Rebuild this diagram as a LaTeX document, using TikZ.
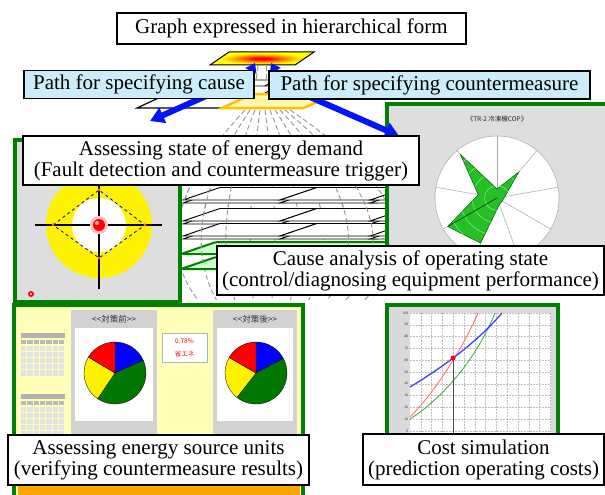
\documentclass[tikz,border=0pt]{standalone}
\usepackage{fontspec}
\setmainfont{Liberation Serif}
\newfontfamily\jpfont{Noto Sans CJK JP}
\usetikzlibrary{arrows.meta}
\definecolor{pgreen}{RGB}{0,128,0}
\definecolor{lblue}{RGB}{204,236,252}
\definecolor{arblue}{RGB}{0,20,255}
\definecolor{panelgray}{RGB}{222,222,222}
\definecolor{paleyellow}{RGB}{255,255,185}
\definecolor{goldline}{RGB}{255,192,0}
\definecolor{plateyellow}{RGB}{255,248,170}
\definecolor{lgreen}{RGB}{204,255,204}
\definecolor{radargreen}{RGB}{40,190,40}
\definecolor{piegreen}{RGB}{0,120,0}
\definecolor{pieblue}{RGB}{0,0,255}
\definecolor{orangestrip}{RGB}{255,165,0}
\definecolor{fangray}{RGB}{150,150,150}
\pgfdeclareradialshading{plateshade}{\pgfpoint{0bp}{0bp}}{color(0bp)=(red); color(4bp)=(red); color(11bp)=(orange); color(20bp)=(yellow); color(100bp)=(yellow)}
\begin{document}
\begin{tikzpicture}[x=1pt,y=-1pt,
  lbl/.style={draw=black,line width=1.6pt,fill=white,inner sep=0pt,align=center,font=\fontsize{21}{21}\selectfont},
  bluelbl/.style={lbl,fill=lblue},
  panel/.style={draw=pgreen,line width=3.5pt},
  bigarrow/.style={draw=arblue,line width=6pt,-{Triangle[length=14pt,width=16pt]}},
  smallarrow/.style={draw=arblue,line width=4.5pt,-{Triangle[length=9pt,width=12pt]}},
  fan/.style={draw=fangray,line width=0.9pt,dash pattern=on 5pt off 3pt},
  slab/.style={draw=black,line width=0.9pt,fill=white},
  gslab/.style={draw=pgreen,line width=2pt,fill=lgreen,rounded corners=2pt},
  jp/.style={font=\jpfont\fontsize{#1}{#1}\selectfont},
  grid/.style={draw=gray!50,dash pattern=on 1.5pt off 1.5pt,line width=0.4pt}
]
\useasboundingbox (0,0) rectangle (605,495);
\fill[white] (0,0) rectangle (605,495);

% ---- dashed fan of lines (behind the layers)
\foreach \i in {0,...,9}{
  \pgfmathsetmacro\sx{245+5*\i}
  \pgfmathsetmacro\a{-94+26.9*\i}
  \draw[fan] (\sx,110) .. controls (\sx+0.6*\a,170) and (\sx+\a,240) .. (\sx+0.5*\a,300);
}
\draw[fan] (258,66) -- (254,96);
\draw[fan] (266,66) -- (266,96);
\draw[fan] (274,66) -- (280,96);

% ---- stacked layers between the upper panels
\foreach \b in {200,221,236}{
  \foreach \xo in {183,280,370}{
    \filldraw[slab] (\xo,\b+3) -- ++(97,0) -- ++(37,-12.5) -- ++(-97,0) -- cycle;
    \filldraw[slab] (\xo,\b) -- ++(97,0) -- ++(37,-12.5) -- ++(-97,0) -- cycle;
  }
}
\filldraw[gslab] (181,254) -- (420,254) -- (455,242) -- (216,242) -- cycle;
\filldraw[gslab] (181,269) -- (420,269) -- (455,257) -- (216,257) -- cycle;

% ---- outer dashed lines seen in front of the layers
\begin{scope}
  \clip (176,180) rectangle (236,262) (336,180) rectangle (396,262);
  \foreach \i in {0,1,2,7,8,9}{
    \pgfmathsetmacro\sx{245+5*\i}
    \pgfmathsetmacro\a{-94+26.9*\i}
    \draw[fan] (\sx,110) .. controls (\sx+0.6*\a,170) and (\sx+\a,240) .. (\sx+0.5*\a,300);
  }
\end{scope}

% ---- upper plates
\filldraw[slab] (150,92) -- (255,92) -- (275,80) -- (170,80) -- cycle;
\filldraw[slab] (150,97) -- (258,97) -- (278,86) -- (170,86) -- cycle;
\filldraw[slab,line width=1.2pt] (137,108) -- (232,108) -- (262,94) -- (167,94) -- cycle;
\filldraw[fill=plateyellow,draw=goldline,line width=2.5pt] (222,108) -- (304,108) -- (334,94) -- (252,94) -- cycle;
\shade[shading=plateshade] (210,65) -- (295,65) -- (314,52) -- (229,52) -- cycle;
\draw[line width=1pt] (210,65) -- (295,65) -- (314,52) -- (229,52) -- cycle;

% ---- left panel: state of energy demand
\fill[panelgray] (15,140) rectangle (180,302);
\begin{scope}
  \clip (17,142) rectangle (178,300);
  \fill[yellow] (99,225) circle[radius=53];
  \fill[white] (99,225) circle[radius=27];
  \draw[line width=1.2pt] (35,225) -- (162,225);
  \draw[line width=1.2pt] (99,170) -- (99,289);
  \draw[blue!80!black,dashed,line width=0.8pt] (53,225) -- (99,190) -- (145,225) -- (99,258) -- cycle;
  \foreach \p in {(53,225),(99,190),(145,225),(99,258)} \fill[orange!80!red] \p circle[radius=1.6];
  \fill[red!25] (99,225) circle[radius=9];
  \fill[red] (99,225) circle[radius=6];
  \fill[red!35] (97,223) circle[radius=2];
  \fill[red] (31,294) circle[radius=3];
  \fill[white] (31,294) circle[radius=1.2];
\end{scope}
\draw[panel] (15,140) rectangle (180,302);

% ---- right panel: radar chart
\fill[panelgray] (387,104) rectangle (607,262);
\node[jp=6.5,text=gray!30!black,inner sep=0pt] (radtitle) at (497,119) {《TR-2 冷凍機COP》};
\begin{scope}[shift={(497,198)},y=1pt]
  \fill[white] (0,0) circle[radius=62];
  \draw[gray!60,line width=0.6pt] (0,0) circle[radius=62];
  \foreach \t in {90,50,10,-30,-70,-110,-150,170,130} \draw[gray!70,line width=0.5pt] (0,0) -- (\t:62);
  \filldraw[fill=radargreen,draw=green!35!black,line width=0.5pt] (90:9) -- (50:34) -- (10:8) -- (-30:6) -- (-70:7) -- (-110:48) -- (-150:57) -- (170:19) -- (130:57) -- cycle;
  \begin{scope}
    \clip (90:9) -- (50:34) -- (10:8) -- (-30:6) -- (-70:7) -- (-110:48) -- (-150:57) -- (170:19) -- (130:57) -- cycle;
    \foreach \r in {12.4,24.8,37.2,49.6} \draw[green!55!white,line width=0.5pt] (0,0) circle[radius=\r];
    \draw[green!25!black,line width=0.6pt] (0,0) -- (-150:62);
  \end{scope}
\end{scope}
\draw[panel] (387,104) rectangle (607,262);

% ---- bottom-left panel: energy source units
\fill[paleyellow] (14,305) rectangle (303,500);
\foreach \yo in {333,394}{
  \fill[gray!60] (21,\yo) rectangle (65,\yo+5);
  \foreach \c in {0,...,6} \fill[gray!55] (21+\c*6.3,\yo+6.5) rectangle ++(5.4,4.5);
  \foreach \r in {0,...,4}{
    \foreach \c in {0,...,6} \fill[gray!22] (21+\c*6.3,\yo+12.5+\r*6.2) rectangle ++(5.4,5.3);
  }
}
\fill[gray!35] (71,310) rectangle (157,436);
\node[jp=8.5,text=gray!40!black,inner sep=0pt] (befh) at (114,319) {<<対策前>>};
\fill[white] (75,328) rectangle (153,421);
\begin{scope}[shift={(115,373)},y=1pt]
  \filldraw[fill=pieblue,draw=black,line width=0.3pt] (0,0) -- (24:31) arc[start angle=24,end angle=90,radius=31] -- cycle;
  \filldraw[fill=piegreen,draw=black,line width=0.3pt] (0,0) -- (-124:31) arc[start angle=-124,end angle=24,radius=31] -- cycle;
  \filldraw[fill=yellow,draw=black,line width=0.3pt] (0,0) -- (149:31) arc[start angle=149,end angle=236,radius=31] -- cycle;
  \filldraw[fill=red,draw=black,line width=0.3pt] (0,0) -- (90:31) arc[start angle=90,end angle=149,radius=31] -- cycle;
\end{scope}
\fill[gray!35] (213,310) rectangle (297,436);
\node[jp=8.5,text=gray!40!black,inner sep=0pt] (afth) at (255,319) {<<対策後>>};
\fill[white] (217,328) rectangle (293,421);
\begin{scope}[shift={(256,373)},y=1pt]
  \filldraw[fill=pieblue,draw=black,line width=0.3pt] (0,0) -- (28:31) arc[start angle=28,end angle=90,radius=31] -- cycle;
  \filldraw[fill=piegreen,draw=black,line width=0.3pt] (0,0) -- (-128:31) arc[start angle=-128,end angle=28,radius=31] -- cycle;
  \filldraw[fill=yellow,draw=black,line width=0.3pt] (0,0) -- (150:31) arc[start angle=150,end angle=232,radius=31] -- cycle;
  \filldraw[fill=red,draw=black,line width=0.3pt] (0,0) -- (90:31) arc[start angle=90,end angle=150,radius=31] -- cycle;
\end{scope}
\node[draw=gray!60,fill=white,line width=0.6pt,minimum width=45pt,minimum height=29pt,inner sep=0pt,align=center,text=red,font=\jpfont\fontsize{6.5}{13}\selectfont] (ratio) at (184.5,347.5) {0.78\%\\省エネ};
\fill[orangestrip] (18,484) rectangle (300,500);
\draw[orange!60!black,line width=0.5pt] (18,484) -- (300,484);
\draw[panel] (14,305) rectangle (303,505);

% ---- bottom-right panel: cost simulation
\fill[gray!30] (387,305) rectangle (558,445);
\fill[white] (410,313) rectangle (551,445);
\foreach \i in {1,...,13} \draw[grid] (410+\i*10.8,313) -- (410+\i*10.8,445);
\foreach \v in {0,10,...,100} \draw[grid] (410,431-\v*1.18) -- (551,431-\v*1.18);
\foreach \v in {0,10,...,100} \node[font=\fontsize{3.5}{4}\selectfont\sffamily,anchor=east,inner sep=0.5pt,text=gray!40!black] (tick\v) at (409,431-\v*1.18) {\v};
\draw[red!55,line width=0.9pt] (410,417) .. controls (435,392) and (463,348) .. (478,313);
\draw[green!55!black!70,line width=0.9pt] (410,419) .. controls (440,400) and (475,362) .. (495,313);
\draw[blue!75,line width=1.3pt] (410,387) .. controls (435,372) and (475,345) .. (502,313);
\draw[gray!60!black,line width=0.5pt] (453,358) -- (453,445);
\fill[red] (453,358) circle[radius=2.5];
\draw[panel] (387,305) rectangle (558,445);

% ---- blue path arrows
\coordinate (ulT) at (240,92); \coordinate (ulH) at (255,63);
\coordinate (urT) at (287,92); \coordinate (urH) at (271,63);
\coordinate (dlT) at (215,92); \coordinate (dlH) at (150,121);
\coordinate (drT) at (310,97); \coordinate (drH) at (399,136);
\draw[smallarrow] (ulT) -- (ulH);
\draw[smallarrow] (urT) -- (urH);
\draw[bigarrow] (dlT) -- (dlH);
\draw[bigarrow] (drT) -- (drH);

% ---- labels
\node[lbl,minimum width=349pt,minimum height=31pt] (title) at (291.5,28.5) {Graph expressed in hierarchical form};
\node[bluelbl,minimum width=230pt,minimum height=28pt] (cause) at (139,84.5) {Path for specifying cause};
\node[bluelbl,minimum width=321pt,minimum height=28pt] (counter) at (429.5,85) {Path for specifying countermeasure};
\node[lbl,minimum width=396pt,minimum height=49pt] (demand) at (221,160.5) {Assessing state of energy demand\\(Fault detection and countermeasure trigger)};
\node[lbl,minimum width=387pt,minimum height=49pt] (analysis) at (410.5,270.5) {Cause analysis of operating state\\(control/diagnosing equipment performance)};
\node[lbl,minimum width=301pt,minimum height=50pt] (units) at (158.5,460) {Assessing energy source units\\(verifying countermeasure results)};
\node[lbl,minimum width=241pt,minimum height=51pt] (cost) at (483.5,459.5) {Cost simulation\\(prediction operating costs)};
\end{tikzpicture}
\end{document}
